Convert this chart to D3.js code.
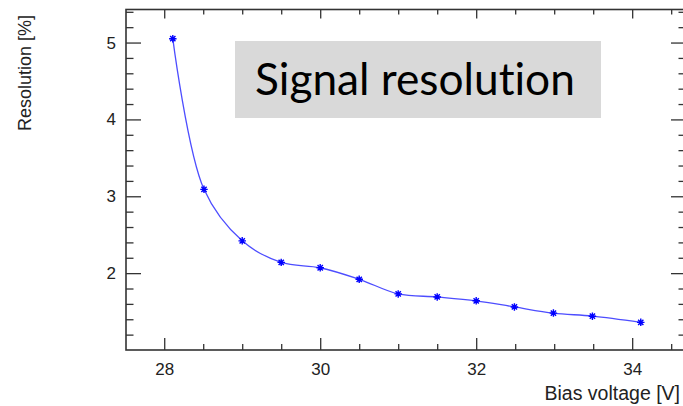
<!DOCTYPE html>
<html>
<head>
<meta charset="utf-8">
<script src="https://cdn.jsdelivr.net/npm/d3@7"></script>
<style>
  html, body { margin: 0; padding: 0; background: #fff; }
  svg { display: block; }
  text { fill: #222; font-variant-ligatures: none; }
</style>
</head>
<body>
<svg id="chart" width="683" height="406"></svg>
<script>
// ---- data ----
const biasVoltage = [28.11, 28.51, 29.0, 29.5, 30.0, 30.5, 31.0, 31.5, 32.0, 32.49, 32.99, 33.49, 34.11];
const resolution  = [5.05, 3.09, 2.42, 2.14, 2.07, 1.92, 1.73, 1.69, 1.64, 1.56, 1.48, 1.44, 1.36];
const xMajorTicks = [28, 30, 32, 34];
const xMinorTicks = [28.5, 29, 29.5, 30.5, 31, 31.5, 32.5, 33, 33.5, 34.5];
const yMajorTicks = [2, 3, 4, 5];
const yMinorTicks = [1.2, 1.4, 1.6, 1.8, 2.2, 2.4, 2.6, 2.8, 3.2, 3.4, 3.6, 3.8, 4.2, 4.4, 4.6, 4.8, 5.2, 5.4];
const xTitle = "Bias voltage [V]";
const yTitle = "Resolution [%]";
const boxLabel = "Signal resolution";

// ---- layout ----
const svg = d3.select("#chart");
const L = 126, R = 686, T = 9.5, B = 350;
const x = d3.scaleLinear().domain([27.51, 34.69]).range([L, R]);
const y = d3.scaleLinear().domain([1.0, 5.43]).range([B, T]);
const axisColor = "#333";
const sansFont = "'Liberation Sans', Arial, Helvetica, sans-serif";

function styleAxis(g) {
  g.select(".domain").remove();
  g.selectAll(".tick line").attr("stroke", axisColor).attr("stroke-width", 1.3);
  g.selectAll(".tick text").style("font-size", "17px").style("fill", "#222")
    .style("font-family", sansFont);
}

// bottom axis
svg.append("g").attr("transform", `translate(0,${B})`)
  .call(d3.axisBottom(x).tickValues(xMajorTicks).tickSize(-12).tickPadding(6).tickFormat(d3.format("d")))
  .call(styleAxis)
  .call(g => g.selectAll(".tick text").attr("dy", "1.1em"));
svg.append("g").attr("transform", `translate(0,${B})`)
  .call(d3.axisBottom(x).tickValues(xMinorTicks).tickSize(-6).tickFormat(""))
  .call(styleAxis);
// top axis
svg.append("g").attr("transform", `translate(0,${T})`)
  .call(d3.axisTop(x).tickValues(xMajorTicks).tickSize(-9).tickFormat(""))
  .call(styleAxis);
svg.append("g").attr("transform", `translate(0,${T})`)
  .call(d3.axisTop(x).tickValues(xMinorTicks).tickSize(-5).tickFormat(""))
  .call(styleAxis);
// left axis
svg.append("g").attr("transform", `translate(${L},0)`)
  .call(d3.axisLeft(y).tickValues(yMajorTicks).tickSize(-15).tickPadding(10).tickFormat(d3.format("d")))
  .call(styleAxis)
  .call(g => g.selectAll(".tick text").attr("x", -10));
svg.append("g").attr("transform", `translate(${L},0)`)
  .call(d3.axisLeft(y).tickValues(yMinorTicks).tickSize(-7.5).tickFormat(""))
  .call(styleAxis);
// right axis
svg.append("g").attr("transform", `translate(${R},0)`)
  .call(d3.axisRight(y).tickValues(yMajorTicks).tickSize(-15).tickFormat(""))
  .call(styleAxis);
svg.append("g").attr("transform", `translate(${R},0)`)
  .call(d3.axisRight(y).tickValues(yMinorTicks).tickSize(-7.5).tickFormat(""))
  .call(styleAxis);

// frame
svg.append("rect").attr("x", L).attr("y", T).attr("width", R - L).attr("height", B - T)
  .attr("fill", "none").attr("stroke", axisColor).attr("stroke-width", 1.6);

// curve
const pts = biasVoltage.map((v, i) => [v, resolution[i]]);
const line = d3.line().x(d => x(d[0])).y(d => y(d[1])).curve(d3.curveCatmullRom.alpha(0.5));
svg.append("path").datum(pts).attr("d", line)
  .attr("fill", "none").attr("stroke", "#4d4dff").attr("stroke-width", 1.3);

// asterisk marker (ROOT-style "*")
const asterisk = {
  draw(ctx, size) {
    const r = Math.sqrt(size) / 2;
    const d = r * 0.7071;
    ctx.moveTo(-r, 0); ctx.lineTo(r, 0);
    ctx.moveTo(0, -r); ctx.lineTo(0, r);
    ctx.moveTo(-d, -d); ctx.lineTo(d, d);
    ctx.moveTo(-d, d); ctx.lineTo(d, -d);
  }
};
svg.append("g").selectAll("path").data(pts).join("path")
  .attr("transform", d => `translate(${x(d[0])},${y(d[1])})`)
  .attr("d", d3.symbol().type(asterisk).size(56))
  .attr("fill", "none").attr("stroke", "#0000ff").attr("stroke-width", 1.4);

// axis titles
svg.append("text").attr("x", 680).attr("y", 400).attr("text-anchor", "end")
  .style("font-family", sansFont).style("font-size", "19.5px").text(xTitle);
svg.append("text").attr("transform", "translate(31,15) rotate(-90)").attr("text-anchor", "end")
  .style("font-family", sansFont).style("font-size", "18px").text(yTitle);

// label box
svg.append("rect").attr("x", 235).attr("y", 41).attr("width", 366).attr("height", 77)
  .attr("fill", "#d9d9d9");
const lbl = svg.append("text").attr("x", 255).attr("y", 95)
  .style("font-family", "Lato, 'Open Sans', sans-serif").style("font-size", "40px")
  .style("fill", "#000").text(boxLabel);
const w = lbl.node().getComputedTextLength();
lbl.style("font-size", (40 * 320 / w) + "px");
</script>
</body>
</html>
